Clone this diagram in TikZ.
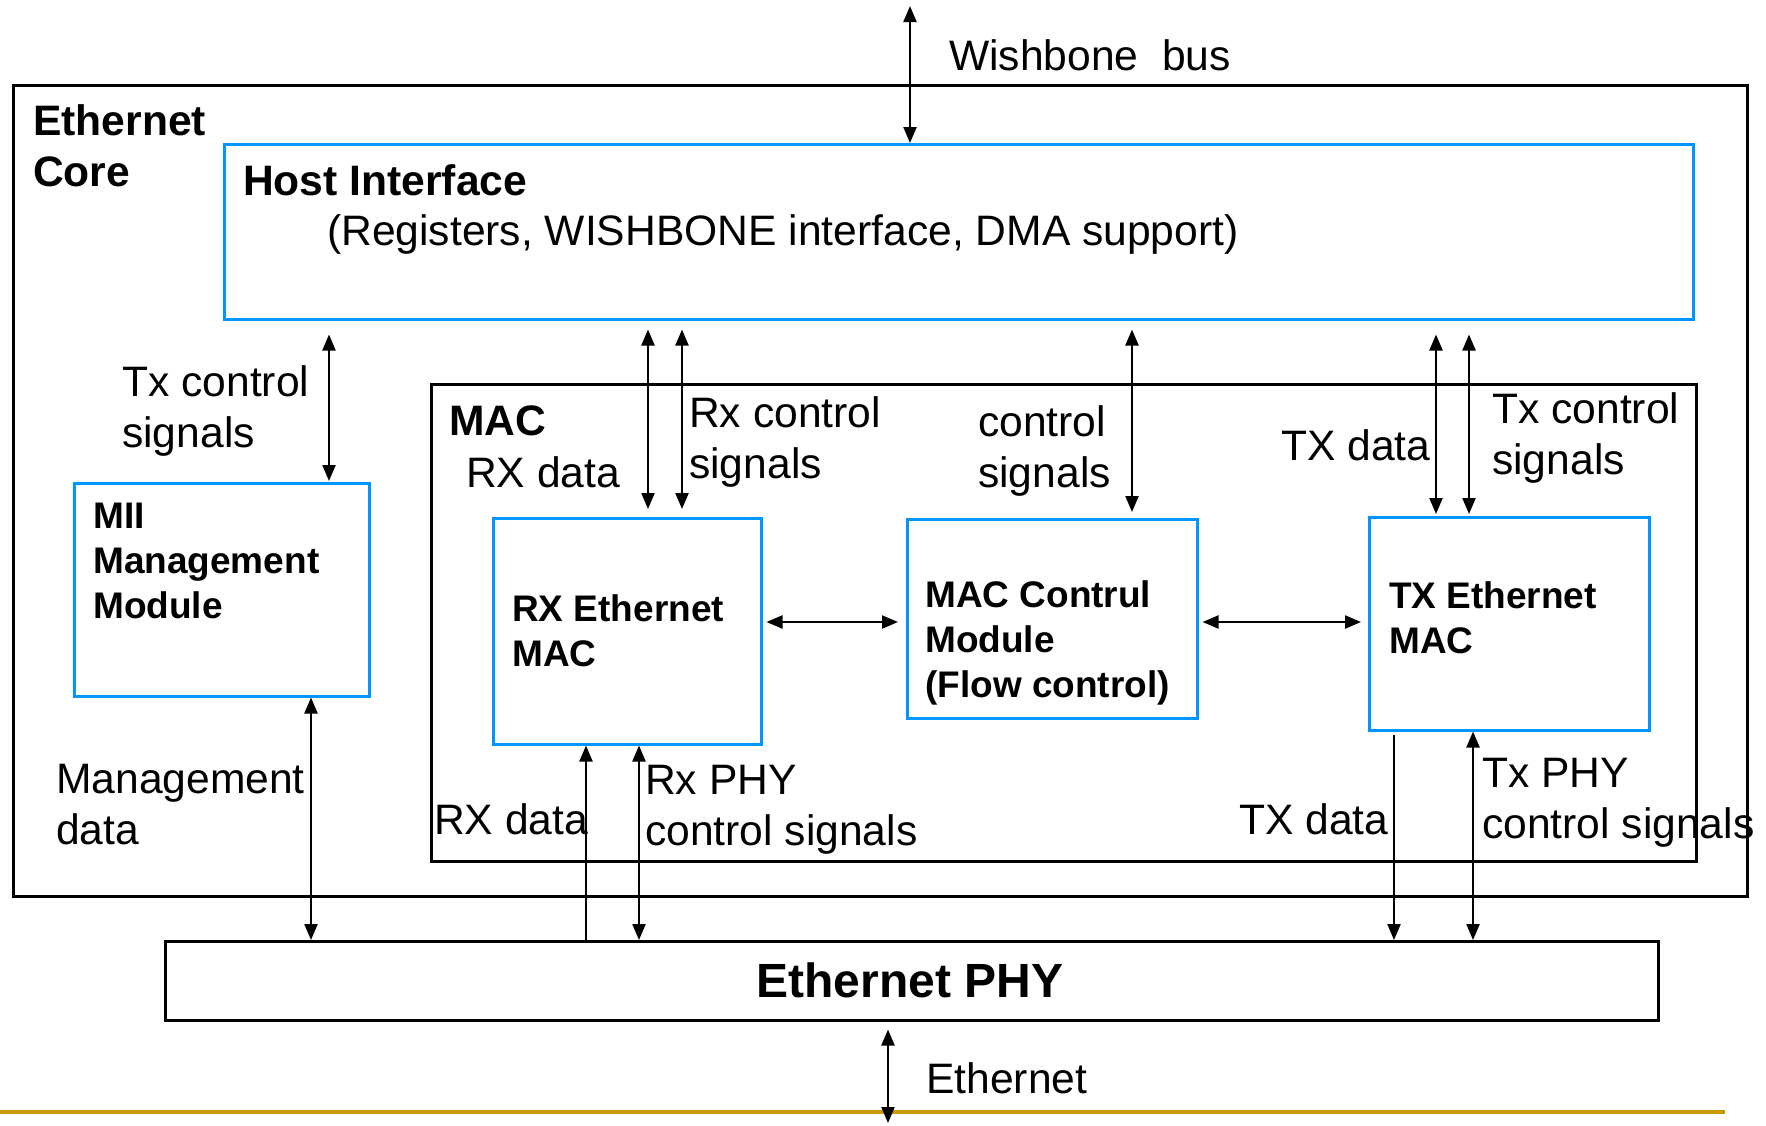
\documentclass[tikz,border=0pt]{standalone}
\usepackage{fontspec}
\setmainfont{Liberation Sans}
\usetikzlibrary{arrows.meta}
\definecolor{boxblue}{RGB}{0,150,255}
\definecolor{goldline}{RGB}{204,153,0}
\begin{document}
\begin{tikzpicture}[x=1pt,y=-1pt,
  blackbox/.style={draw=black, line width=2.5pt, inner sep=0pt, anchor=north west},
  bluebox/.style={draw=boxblue, line width=2.5pt, inner sep=0pt, anchor=north west},
  lbl/.style={anchor=west, inner sep=0pt, align=left, font=\fontsize{42.6}{51}\selectfont},
  blbl/.style={lbl, font=\fontsize{42.6}{51}\selectfont\bfseries},
  slbl/.style={lbl, font=\fontsize{37}{44.6}\selectfont\bfseries},
  arr/.style={line width=2.2pt, -{Triangle[length=16pt,width=13pt]}},
  biarr/.style={line width=2.2pt, {Triangle[length=16pt,width=13pt]}-{Triangle[length=16pt,width=13pt]}},
]
\useasboundingbox (0,0) rectangle (1766,1125);

% boxes
\node[blackbox, minimum width=1734pt, minimum height=811pt] (core) at (12,84) {};
\node[blackbox, minimum width=1265pt, minimum height=477pt] (mac) at (430,383) {};
\node[bluebox, minimum width=1469pt, minimum height=175pt] (host) at (223,143) {};
\node[bluebox, minimum width=295pt, minimum height=213pt] (mii) at (73,482) {};
\node[bluebox, minimum width=268pt, minimum height=226pt] (rxmac) at (492,517) {};
\node[bluebox, minimum width=290pt, minimum height=199pt] (macctl) at (906,518) {};
\node[bluebox, minimum width=280pt, minimum height=213pt] (txmac) at (1368,516) {};
\node[blackbox, minimum width=1493pt, minimum height=79pt] (phy) at (164,940) {};

% golden line
\coordinate (gl1) at (0,1112);
\coordinate (gl2) at (1725,1112);
\draw[goldline, line width=4pt] (gl1) -- (gl2);

% box texts
\node[blbl] (tcore) at (33,146) {Ethernet\\Core};
\node[blbl] (thost) at (243,180) {Host Interface};
\node[lbl] (thost2) at (327,234) {(Registers, WISHBONE interface, DMA support)};
\node[blbl] (tmac) at (449,421) {MAC};
\node[slbl] (tmii) at (93,561) {MII\\Management\\Module};
\node[slbl] (trx) at (512,631) {RX Ethernet\\MAC};
\node[slbl] (tctl) at (925,643) {MAC Contrul\\Module\\(Flow control)};
\node[slbl] (ttx) at (1389,618) {TX Ethernet\\MAC};
\node[anchor=center, inner sep=0pt, font=\fontsize{48}{56}\selectfont\bfseries] (tphy) at (910,980) {Ethernet PHY};

% signal labels
\node[lbl] (lwb) at (949,55) {Wishbone\ \ bus};
\node[lbl] (ltxc1) at (122,411) {Tx control\\signals};
\node[lbl] (lrxd1) at (466,472) {RX data};
\node[lbl] (lrxc) at (689,442) {Rx control\\signals};
\node[lbl] (lctl) at (978,451) {control\\signals};
\node[lbl] (ltxd1) at (1281,445) {TX data};
\node[lbl] (ltxc2) at (1492,438) {Tx control\\signals};
\node[lbl] (lmgmt) at (56,805) {Management\\data};
\node[lbl] (lrxd2) at (434,819) {RX data};
\node[lbl] (lrxphy) at (645,810) {Rx PHY\\control signals};
\node[lbl] (ltxd2) at (1239,819) {TX data};
\node[lbl] (ltxphy) at (1482,803) {Tx PHY\\control signals};
\node[lbl] (leth) at (926,1078) {Ethernet};

% connectors
\coordinate (wb) at (910,6);
\draw[biarr] (wb) -- (host.north -| wb);
\draw[biarr, shorten <=14pt, shorten >=1pt] (host.south -| 329,0) -- (mii.north -| 329,0);
\draw[biarr, shorten <=9pt, shorten >=8pt] (host.south -| 648,0) -- (rxmac.north -| 648,0);
\draw[biarr, shorten <=9pt, shorten >=8pt] (host.south -| 682,0) -- (rxmac.north -| 682,0);
\draw[biarr, shorten <=9pt, shorten >=6pt] (host.south -| 1132,0) -- (macctl.north -| 1132,0);
\draw[biarr, shorten <=14pt, shorten >=2pt] (host.south -| 1436,0) -- (txmac.north -| 1436,0);
\draw[biarr, shorten <=14pt, shorten >=2pt] (host.south -| 1469,0) -- (txmac.north -| 1469,0);
\draw[biarr, shorten <=4pt, shorten >=8pt] (rxmac.east |- 0,622) -- (macctl.west |- 0,622);
\draw[biarr, shorten <=4pt, shorten >=7pt] (macctl.east |- 0,622) -- (txmac.west |- 0,622);
\draw[biarr] (mii.south -| 311,0) -- (phy.north -| 311,0);
\draw[arr] (phy.north -| 586,0) -- (rxmac.south -| 586,0);
\draw[biarr] (phy.north -| 639,0) -- (rxmac.south -| 639,0);
\draw[arr, shorten <=3pt] (txmac.south -| 1394,0) -- (phy.north -| 1394,0);
\draw[biarr] (txmac.south -| 1473,0) -- (phy.north -| 1473,0);
\coordinate (ethend) at (888,1123);
\draw[biarr, shorten <=8pt] (phy.south -| ethend) -- (ethend);
\end{tikzpicture}
\end{document}
